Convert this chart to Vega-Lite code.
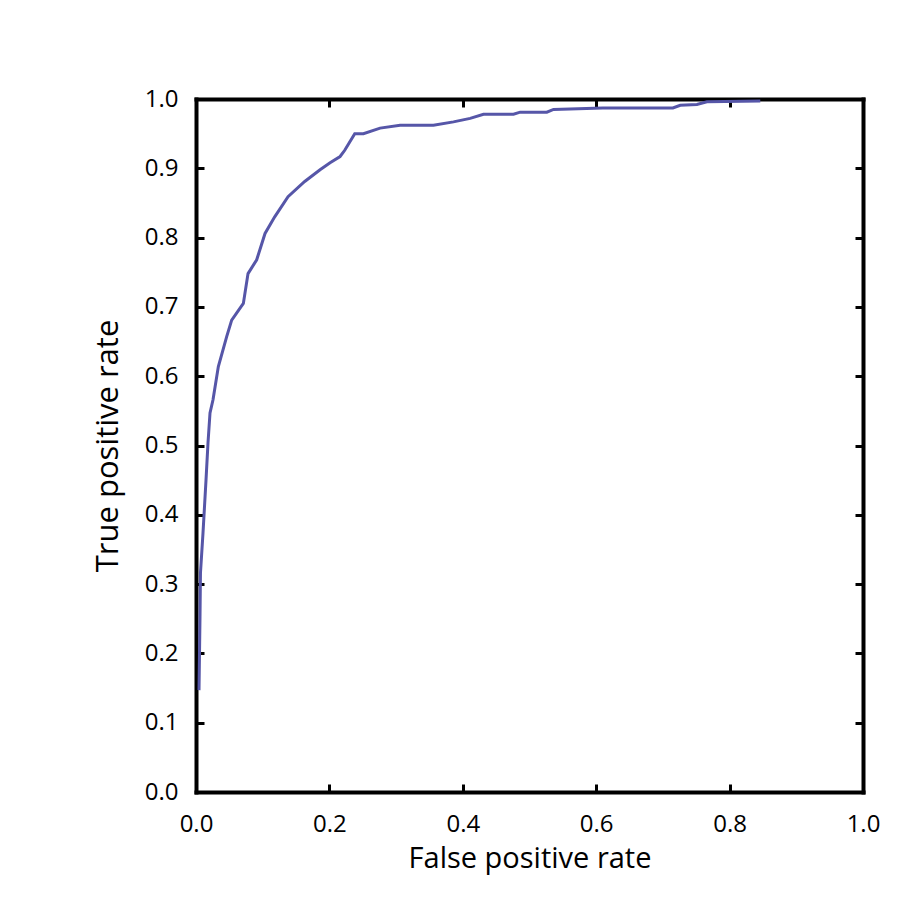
{
  "$schema": "https://vega.github.io/schema/vega-lite/v6.json",
  "width": 667,
  "height": 693,
  "autosize": {"type": "none"},
  "padding": {"left": 196, "top": 99, "right": 61, "bottom": 115},
  "background": "white",
  "config": {
    "view": {"stroke": null},
    "font": "Open Sans",
    "axis": {
      "grid": false,
      "domainColor": "black",
      "domainWidth": 4,
      "domainCap": "square",
      "tickColor": "black",
      "tickWidth": 3,
      "tickSize": -8,
      "labelFlush": false,
      "labelOverlap": false,
      "labelFont": "Open Sans",
      "labelFontSize": 24,
      "labelFontWeight": 500,
      "labelColor": "black",
      "titleFont": "Open Sans",
      "titleFontSize": 29,
      "titleFontWeight": 500,
      "titleColor": "black"
    }
  },
  "data": {
    "values": [
      {"fpr": 0.0045, "tpr": 0.147},
      {"fpr": 0.006, "tpr": 0.253},
      {"fpr": 0.0067, "tpr": 0.316},
      {"fpr": 0.0105, "tpr": 0.374},
      {"fpr": 0.015, "tpr": 0.45},
      {"fpr": 0.018, "tpr": 0.504},
      {"fpr": 0.021, "tpr": 0.547},
      {"fpr": 0.0255, "tpr": 0.566},
      {"fpr": 0.0335, "tpr": 0.614},
      {"fpr": 0.046, "tpr": 0.657},
      {"fpr": 0.0535, "tpr": 0.681},
      {"fpr": 0.071, "tpr": 0.705},
      {"fpr": 0.078, "tpr": 0.748},
      {"fpr": 0.091, "tpr": 0.768},
      {"fpr": 0.1035, "tpr": 0.806},
      {"fpr": 0.118, "tpr": 0.83},
      {"fpr": 0.138, "tpr": 0.859},
      {"fpr": 0.163, "tpr": 0.881},
      {"fpr": 0.186, "tpr": 0.898},
      {"fpr": 0.201, "tpr": 0.908},
      {"fpr": 0.216, "tpr": 0.917},
      {"fpr": 0.223, "tpr": 0.926},
      {"fpr": 0.238, "tpr": 0.95},
      {"fpr": 0.251, "tpr": 0.95},
      {"fpr": 0.276, "tpr": 0.958},
      {"fpr": 0.306, "tpr": 0.962},
      {"fpr": 0.356, "tpr": 0.962},
      {"fpr": 0.386, "tpr": 0.967},
      {"fpr": 0.411, "tpr": 0.972},
      {"fpr": 0.431, "tpr": 0.978},
      {"fpr": 0.476, "tpr": 0.978},
      {"fpr": 0.486, "tpr": 0.981},
      {"fpr": 0.526, "tpr": 0.981},
      {"fpr": 0.536, "tpr": 0.985},
      {"fpr": 0.61, "tpr": 0.987},
      {"fpr": 0.715, "tpr": 0.987},
      {"fpr": 0.726, "tpr": 0.991},
      {"fpr": 0.751, "tpr": 0.992},
      {"fpr": 0.766, "tpr": 0.996},
      {"fpr": 0.846, "tpr": 0.997}
    ]
  },
  "layer": [
    {
      "mark": {"type": "line", "color": "#5656a8", "strokeWidth": 3},
      "encoding": {
        "x": {
          "field": "fpr", "type": "quantitative",
          "scale": {"domain": [0, 1], "nice": false},
          "axis": {"title": "False positive rate", "values": [0, 0.2, 0.4, 0.6, 0.8, 1.0], "format": ".1f", "labelPadding": 28, "titlePadding": 8}
        },
        "y": {
          "field": "tpr", "type": "quantitative",
          "scale": {"domain": [0, 1], "nice": false},
          "axis": {"title": "True positive rate", "titleFontSize": 31, "values": [0, 0.1, 0.2, 0.3, 0.4, 0.5, 0.6, 0.7, 0.8, 0.9, 1.0], "format": ".1f", "labelPadding": 26, "titlePadding": 20}
        }
      }
    },
    {
      "mark": {"type": "point", "opacity": 0},
      "encoding": {
        "x": {
          "field": "fpr", "type": "quantitative",
          "axis": {"orient": "top", "title": null, "labels": false, "values": [0, 0.2, 0.4, 0.6, 0.8, 1.0]}
        },
        "y": {
          "field": "tpr", "type": "quantitative",
          "axis": {"orient": "right", "title": null, "labels": false, "values": [0, 0.1, 0.2, 0.3, 0.4, 0.5, 0.6, 0.7, 0.8, 0.9, 1.0]}
        }
      }
    }
  ],
  "resolve": {"axis": {"x": "independent", "y": "independent"}}
}
